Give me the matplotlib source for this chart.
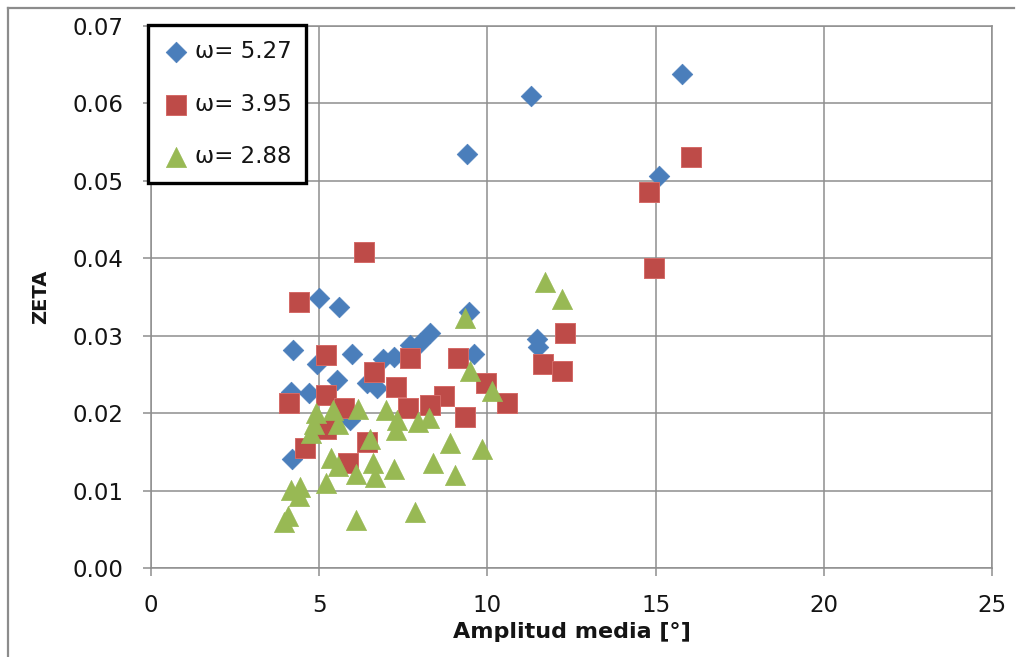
import matplotlib
matplotlib.use("Agg")
import matplotlib.pyplot as plt
from matplotlib.lines import Line2D

# Series: mean amplitude [deg] vs. damping ratio ZETA, one per frequency
labels = ["ω= 5.27", "ω= 3.95", "ω= 2.88"]

amp_527 = [15.78, 11.30, 9.40, 15.10, 4.98, 5.60, 9.44, 8.30, 8.01, 7.71, 7.21, 6.91,
           11.47, 11.50, 9.60, 4.23, 5.98, 4.94, 5.54, 6.43, 6.72, 4.15, 4.69, 5.93, 4.20]
zeta_527 = [0.0638, 0.0609, 0.0535, 0.0506, 0.0349, 0.0337, 0.0331, 0.0304, 0.0291, 0.0288,
            0.0273, 0.0270, 0.0296, 0.0286, 0.0277, 0.0281, 0.0276, 0.0264, 0.0243, 0.0239,
            0.0232, 0.0227, 0.0226, 0.0191, 0.0141]

amp_395 = [16.04, 14.80, 14.95, 6.32, 4.39, 12.30, 5.19, 7.71, 9.12, 11.66, 12.21, 6.62, 7.27,
           9.96, 5.19, 8.72, 4.10, 10.58, 8.28, 5.73, 7.64, 9.34, 5.19, 6.43, 4.57, 5.87]
zeta_395 = [0.0531, 0.0486, 0.0387, 0.0408, 0.0343, 0.0304, 0.0275, 0.0271, 0.0271, 0.0264,
            0.0254, 0.0253, 0.0234, 0.0239, 0.0223, 0.0222, 0.0213, 0.0213, 0.0211, 0.0207,
            0.0206, 0.0195, 0.0180, 0.0163, 0.0155, 0.0136]

amp_288 = [11.71, 12.21, 9.34, 9.49, 10.14, 4.90, 4.84, 4.75, 5.42, 5.57, 6.14, 7.00, 7.30,
           7.27, 7.95, 8.25, 6.52, 8.90, 9.84, 5.36, 5.57, 6.60, 8.38, 7.22, 6.08, 6.67, 9.05,
           5.19, 4.15, 4.42, 4.39, 4.06, 3.94, 6.08, 7.86]
zeta_288 = [0.0370, 0.0347, 0.0323, 0.0254, 0.0228, 0.0200, 0.0186, 0.0174, 0.0204, 0.0186,
            0.0205, 0.0204, 0.0191, 0.0178, 0.0189, 0.0194, 0.0167, 0.0161, 0.0154, 0.0142,
            0.0132, 0.0135, 0.0135, 0.0128, 0.0122, 0.0118, 0.0120, 0.0110, 0.0101, 0.0105,
            0.0093, 0.0067, 0.0059, 0.0062, 0.0072]

x_ticks = [0, 5, 10, 15, 20, 25]
y_ticks = [0.00, 0.01, 0.02, 0.03, 0.04, 0.05, 0.06, 0.07]

plt.rcParams["font.family"] = ["DejaVu Sans"]

W, H = 1023, 657
fig = plt.figure(figsize=(W / 100, H / 100), dpi=100)
fig.patch.set_facecolor("white")

# outer grey frame: top and left edges
frame_c = "#8c8c8c"
fig.lines.append(Line2D([8 / W, 1014 / W], [1 - 8 / H, 1 - 8 / H],
                        transform=fig.transFigure, color=frame_c, linewidth=1.6))
fig.lines.append(Line2D([8 / W, 8 / W], [0, 1 - 8 / H],
                        transform=fig.transFigure, color=frame_c, linewidth=1.6))

ax = fig.add_axes([151 / W, (H - 568) / H, (992 - 151) / W, (568 - 26) / H])

grid_c = "#8e8e8e"
text_c = "#141414"
ax.scatter(amp_527, zeta_527, marker="D", s=10.5 ** 2, color="#4a7ebb",
           edgecolors="#4a7ebb", linewidths=0.5, zorder=3, label=labels[0])
ax.scatter(amp_395, zeta_395, marker="s", s=13.8 ** 2, color="#be4b48",
           edgecolors="#d46a67", linewidths=0.7, zorder=4, label=labels[1])
ax.scatter(amp_288, zeta_288, marker="^", s=14.5 ** 2, color="#98b954",
           edgecolors="#98b954", linewidths=0.5, zorder=5, label=labels[2])

ax.set_xlim(0, 25)
ax.set_ylim(0, 0.07)
ax.set_xticks(x_ticks)
ax.set_xticklabels([str(v) for v in x_ticks])
ax.set_yticks(y_ticks)
ax.set_yticklabels([f"{v:.2f}" for v in y_ticks])

ax.grid(True, color=grid_c, linewidth=1.1, zorder=0)
ax.set_axisbelow(True)
for side in ["left", "bottom", "top", "right"]:
    ax.spines[side].set_color(grid_c)
    ax.spines[side].set_linewidth(1.1)

ax.tick_params(axis="both", direction="out", length=6, width=1.1, color=grid_c,
               labelsize=16.5, labelcolor=text_c)
ax.tick_params(axis="y", pad=14)
ax.tick_params(axis="x", pad=13)

ax.set_xlabel("Amplitud media [°]", fontsize=16, fontweight="bold", labelpad=3,
              color=text_c)
ax.set_ylabel("ZETA", fontsize=14, fontweight="bold", labelpad=16, color=text_c)

leg = ax.legend(loc="upper left", bbox_to_anchor=(-0.004, 1.002), borderaxespad=0,
                fontsize=16.5, frameon=True, fancybox=False, framealpha=1,
                labelspacing=1.3, handletextpad=0.2, handlelength=1.2,
                borderpad=0.65, markerscale=1.0)
leg.get_frame().set_edgecolor("black")
leg.get_frame().set_linewidth(2.4)
leg.set_zorder(10)
for t in leg.get_texts():
    t.set_color(text_c)

fig.savefig("out.png", dpi=100, facecolor="white")
